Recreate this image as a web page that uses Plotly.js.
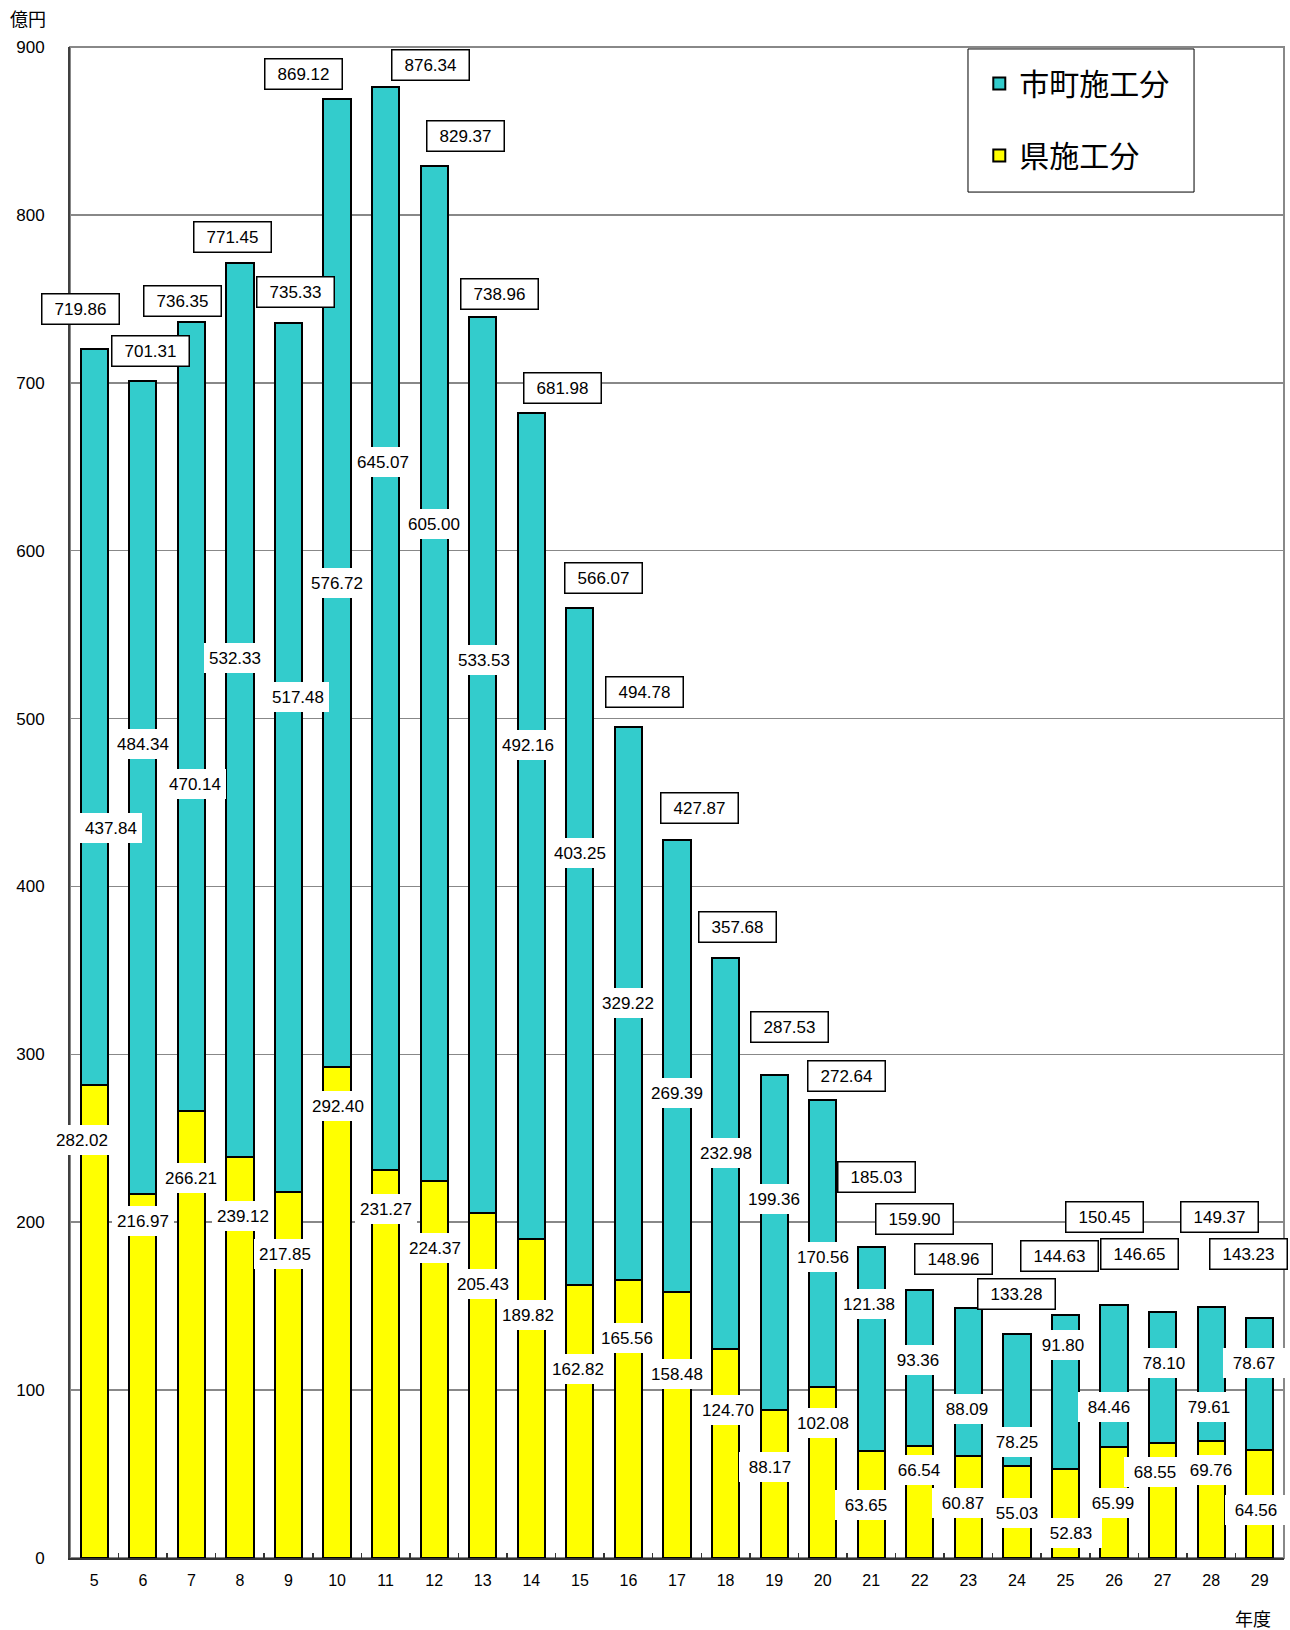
<!DOCTYPE html>
<html>
<head>
<meta charset="utf-8">
<script src="https://cdn.plot.ly/plotly-3.0.1.min.js"></script>
<style>html,body{margin:0;padding:0;background:#fff;}#chart{width:1290px;height:1630px;}</style>
</head>
<body>
<div id="chart"></div>
<script>
// ---- data ----
const years = ['5','6','7','8','9','10','11','12','13','14','15','16','17','18','19','20','21','22','23','24','25','26','27','28','29'];
const prefValues = [282.02,216.97,266.21,239.12,217.85,292.40,231.27,224.37,205.43,189.82,162.82,165.56,158.48,124.70,88.17,102.08,63.65,66.54,60.87,55.03,52.83,65.99,68.55,69.76,64.56];
const cityValues = [437.84,484.34,470.14,532.33,517.48,576.72,645.07,605.00,533.53,492.16,403.25,329.22,269.39,232.98,199.36,170.56,121.38,93.36,88.09,78.25,91.80,84.46,78.10,79.61,78.67];
const totalValues = [719.86,701.31,736.35,771.45,735.33,869.12,876.34,829.37,738.96,681.98,566.07,494.78,427.87,357.68,287.53,272.64,185.03,159.90,148.96,133.28,144.63,150.45,146.65,149.37,143.23];
const seriesNames = ['県施工分','市町施工分'];

// ---- label placement (layout only) ----
const totLabDx = [-14,8,-9,-7,7,-34,45,31,17,31,24,16,22,12,15,24,5,-5,-15,0,-6,-10,-23,8,-11];
const totLabY  = [744,719,749,787,754,884,889,847,753,697,584,516,447,376,316,287,227,202,178,157,180,203,181,203,181];
const cityLabDx = [17,0,4,-5,9,0,-3,0,1,-3,0,0,0,0,0,0,-2,-2,-1,0,-2,-5,1,-2,-6];
const cityLabY  = [435,484.6,461,536,513,581,653,616,535,484,420,330.5,276.7,241,214,179.5,151,118,89,69,127,90,116,90,116];
const prefLabDx = [-12,0,0,3,-4,1,0,1,0,-3,-2,-1,0,2,-4,0,-5,-1,-5,0,6,-1,-8,0,-4];
const prefLabY  = [249,200.5,226.5,204,181,269,208,184.5,163,145,112.6,131,109.5,88,54.5,80.5,31.5,52.6,33,27,15,33,51,52.6,28.5];

const NUMFONT = 'Liberation Sans, Arial, Noto Sans CJK JP, sans-serif';
const JPFONT = 'Noto Sans CJK JP, sans-serif';

const traces = [
  {type:'bar', name:seriesNames[0], x:years, y:prefValues, legendgroup:'b', legendrank:2,
   marker:{color:'#FFFF00', line:{color:'#000', width:2}}, hoverinfo:'skip'},
  {type:'bar', name:seriesNames[1], x:years, y:cityValues, legendgroup:'a', legendrank:1,
   marker:{color:'#33CCCC', line:{color:'#000', width:2}}, hoverinfo:'skip'}
];

const fmt = v => v.toFixed(2);
const annotations = [];
years.forEach((yr,i) => {
  annotations.push({x:i, y:totLabY[i], xref:'x', yref:'y', xshift:totLabDx[i], text:fmt(totalValues[i]),
    showarrow:false, bgcolor:'#fff', bordercolor:'#000', borderwidth:1.5, borderpad:1, width:74, height:27,
    font:{family:NUMFONT, size:17, color:'#000'}});
  annotations.push({x:i, y:cityLabY[i], xref:'x', yref:'y', xshift:cityLabDx[i], text:fmt(cityValues[i]),
    showarrow:false, bgcolor:'#fff', borderwidth:0, borderpad:0, width:62, height:30,
    font:{family:NUMFONT, size:17, color:'#000'}});
  annotations.push({x:i, y:prefLabY[i], xref:'x', yref:'y', xshift:prefLabDx[i], text:fmt(prefValues[i]),
    showarrow:false, bgcolor:'#fff', borderwidth:0, borderpad:0, width:62, height:30,
    font:{family:NUMFONT, size:17, color:'#000'}});
});
annotations.push({xref:'paper', yref:'paper', x:-0.0346, y:1.0192, xanchor:'center', yanchor:'middle',
  text:'億円', showarrow:false, font:{family:JPFONT, size:18, color:'#000'}});
annotations.push({xref:'paper', yref:'paper', x:0.9745, y:-0.0397, xanchor:'center', yanchor:'middle',
  text:'年度', showarrow:false, font:{family:JPFONT, size:18, color:'#000'}});

const layout = {
  width:1290, height:1630,
  margin:{l:70, r:6, t:47, b:72},
  paper_bgcolor:'#fff', plot_bgcolor:'#fff',
  barmode:'stack', bargap:0.44,
  font:{family:NUMFONT, color:'#000'},
  showlegend:true,
  legend:{x:0.749, y:0.993, xanchor:'left', yanchor:'top', bgcolor:'rgba(0,0,0,0)', borderwidth:0,
    traceorder:'grouped', tracegroupgap:30, font:{family:JPFONT, size:30, color:'#000'}},
  xaxis:{type:'category', range:[-0.5, years.length-0.5], autorange:false, showline:true, linecolor:'#333', linewidth:2,
    ticks:'inside', tickson:'boundaries',
    ticklen:5, tickcolor:'#333', tickwidth:1.5, tickfont:{family:NUMFONT, size:16, color:'#000'},
    ticklabelstandoff:7, showgrid:false, zeroline:false, fixedrange:true},
  yaxis:{range:[0,900], autorange:false, dtick:100, showline:true, linecolor:'#404040', linewidth:2, ticks:'',
    gridcolor:'#888', gridwidth:1.5, zeroline:false, tickfont:{family:NUMFONT, size:17, color:'#000'},
    ticklabelstandoff:20, fixedrange:true},
  shapes:[
    {type:'rect', xref:'paper', yref:'paper', x0:0, x1:1, y0:0, y1:1, line:{color:'#888', width:2}, layer:'below'},
    {type:'rect', xref:'paper', yref:'paper', x0:0.7397, x1:0.9259, y0:0.904, y1:0.9987,
      fillcolor:'#fff', line:{color:'#000', width:1}, layer:'above'}
  ],
  annotations:annotations
};

Plotly.newPlot('chart', traces, layout, {displayModeBar:false, staticPlot:true});
</script>
</body>
</html>
